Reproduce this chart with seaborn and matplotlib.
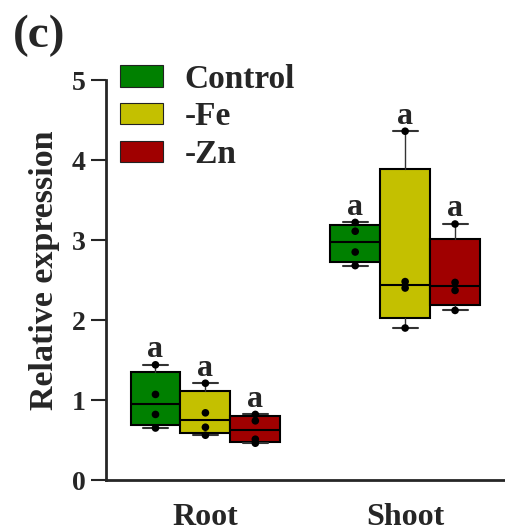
import numpy as np
import pandas as pd
import matplotlib
matplotlib.use("Agg")
import matplotlib.pyplot as plt
from matplotlib.patches import Patch
from matplotlib.font_manager import FontProperties
import seaborn as sns

# Relative expression values (four biological replicates per group)
tissues = ["Root", "Shoot"]
treatments = ["Control", "-Fe", "-Zn"]
root_control = [1.44, 1.07, 0.82, 0.65]
root_fe = [1.21, 0.84, 0.66, 0.56]
root_zn = [0.82, 0.74, 0.51, 0.46]
shoot_control = [3.22, 3.11, 2.85, 2.68]
shoot_fe = [4.36, 2.48, 2.40, 1.90]
shoot_zn = [3.20, 2.47, 2.37, 2.12]
letters_root = ["a", "a", "a"]
letters_shoot = ["a", "a", "a"]

colors = ["#008000", "#C4C000", "#A00000"]

values = {
    ("Root", "Control"): root_control,
    ("Root", "-Fe"): root_fe,
    ("Root", "-Zn"): root_zn,
    ("Shoot", "Control"): shoot_control,
    ("Shoot", "-Fe"): shoot_fe,
    ("Shoot", "-Zn"): shoot_zn,
}
letters = dict(zip([("Root", t) for t in treatments], letters_root))
letters.update(zip([("Shoot", t) for t in treatments], letters_shoot))

rows = []
for (tissue, trt), vals in values.items():
    for v in vals:
        rows.append({"tissue": tissue, "treatment": trt, "value": v})
df = pd.DataFrame(rows)

box_w = 0.25
offsets = {t: (i - 1) * box_w for i, t in enumerate(treatments)}
df["xpos"] = df["tissue"].map({t: i for i, t in enumerate(tissues)}) + df["treatment"].map(offsets)

sns.set_style("ticks")
plt.rcParams["font.family"] = ["Liberation Serif", "DejaVu Serif"]
plt.rcParams["font.weight"] = "bold"

fig = plt.figure(figsize=(5.05, 5.32), dpi=100)
ax = fig.add_axes([0.209, 0.0977, 0.791, 0.7519])

# Box statistics (quartiles by the n+1 rule, whiskers at min / max)
for (tissue, trt), grp in df.groupby(["tissue", "treatment"], sort=False):
    v = grp["value"].to_numpy()
    stats = [{
        "med": np.median(v),
        "q1": np.percentile(v, 25, method="weibull"),
        "q3": np.percentile(v, 75, method="weibull"),
        "whislo": v.min(),
        "whishi": v.max(),
        "fliers": [],
    }]
    pos = tissues.index(tissue) + offsets[trt]
    ax.bxp(stats, positions=[pos], widths=box_w, patch_artist=True,
           showfliers=False, manage_ticks=False,
           boxprops=dict(facecolor=colors[treatments.index(trt)], edgecolor="black", linewidth=1.5),
           medianprops=dict(color="black", linewidth=1.5),
           whiskerprops=dict(color="#333333", linewidth=1.0),
           capprops=dict(color="#333333", linewidth=1.5))
    ax.annotate(letters[(tissue, trt)], (pos, v.max()), xytext=(0, 5.5),
                textcoords="offset points", ha="center", va="baseline",
                fontsize=23, fontweight="bold")

sns.scatterplot(data=df, x="xpos", y="value", color="black", s=30,
                edgecolor="none", legend=False, zorder=5, ax=ax)

ax.set_xlim(-0.5, 1.5)
ax.set_ylim(0, 5)
ax.set_yticks(range(0, 6))
ax.set_xticks(range(len(tissues)))
ax.set_xticklabels(tissues)
ax.set_xlabel("")
ax.set_ylabel("Relative expression", fontsize=24.5, fontweight="bold")
ax.yaxis.set_label_coords(-0.115, 0.525)

for s in ["top", "right"]:
    ax.spines[s].set_visible(False)
for s in ["left", "bottom"]:
    ax.spines[s].set_linewidth(2)
ax.tick_params(axis="y", length=11, width=1.5, pad=3.5, labelsize=20)
ax.tick_params(axis="x", length=0, pad=16.5, labelsize=23)
for lab in ax.get_xticklabels() + ax.get_yticklabels():
    lab.set_fontweight("bold")

handles = [Patch(facecolor=c, edgecolor="#222222", linewidth=0.8) for c in colors]
ax.legend(handles, treatments, loc="upper left",
          bbox_to_anchor=(0.2376, 0.8803), bbox_transform=fig.transFigure,
          frameon=False, prop=FontProperties(family="Liberation Serif", weight="bold", size=24),
          handlelength=1.29, handleheight=0.6, handletextpad=0.65,
          labelspacing=0.2, borderpad=0, borderaxespad=0)

fig.text(0.026, 0.9117, "(c)", fontsize=34, fontweight="bold", va="baseline", ha="left")

fig.savefig("out.png", dpi=100)
